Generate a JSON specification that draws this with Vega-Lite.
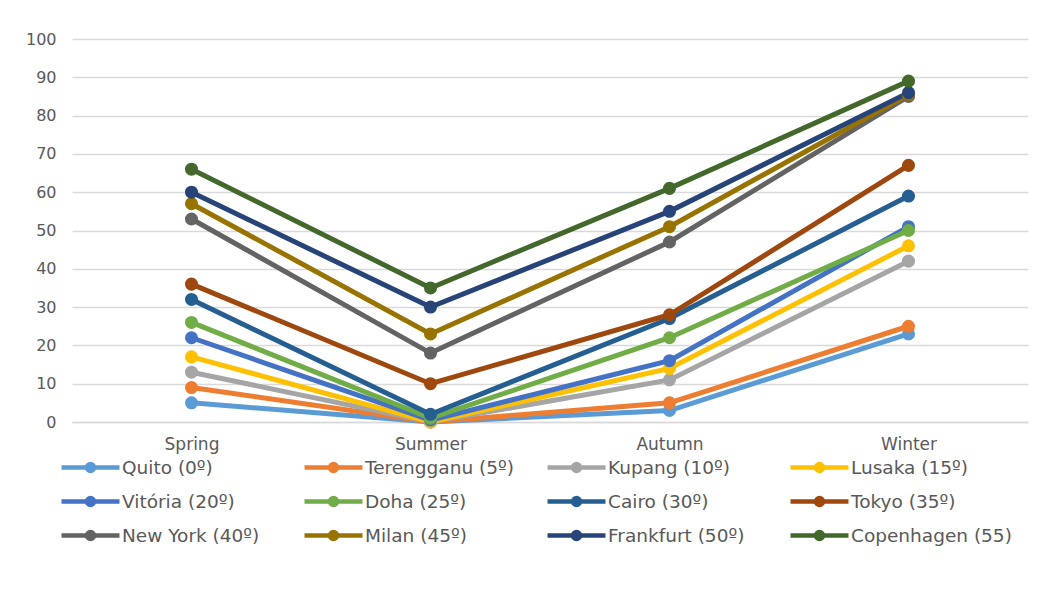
{
  "$schema": "https://vega.github.io/schema/vega-lite/v6.json",
  "width": 956,
  "height": 383,
  "autosize": {"type": "none"},
  "padding": {"left": 72, "top": 39, "right": 14, "bottom": 171},
  "background": "white",
  "config": {
    "font": "DejaVu Sans",
    "view": {"stroke": null},
    "axis": {"labelFont": "DejaVu Sans", "labelColor": "#595959", "labelFontSize": 16, "titleFont": "DejaVu Sans"},
    "legend": {"labelFont": "DejaVu Sans"}
  },
  "data": {
    "values": [
      {"city": "Quito (0º)", "season": "Spring", "value": 5},
      {"city": "Quito (0º)", "season": "Summer", "value": 0},
      {"city": "Quito (0º)", "season": "Autumn", "value": 3},
      {"city": "Quito (0º)", "season": "Winter", "value": 23},
      {"city": "Terengganu (5º)", "season": "Spring", "value": 9},
      {"city": "Terengganu (5º)", "season": "Summer", "value": 0},
      {"city": "Terengganu (5º)", "season": "Autumn", "value": 5},
      {"city": "Terengganu (5º)", "season": "Winter", "value": 25},
      {"city": "Kupang (10º)", "season": "Spring", "value": 13},
      {"city": "Kupang (10º)", "season": "Summer", "value": 0},
      {"city": "Kupang (10º)", "season": "Autumn", "value": 11},
      {"city": "Kupang (10º)", "season": "Winter", "value": 42},
      {"city": "Lusaka (15º)", "season": "Spring", "value": 17},
      {"city": "Lusaka (15º)", "season": "Summer", "value": 0},
      {"city": "Lusaka (15º)", "season": "Autumn", "value": 14},
      {"city": "Lusaka (15º)", "season": "Winter", "value": 46},
      {"city": "Vitória (20º)", "season": "Spring", "value": 22},
      {"city": "Vitória (20º)", "season": "Summer", "value": 0.5},
      {"city": "Vitória (20º)", "season": "Autumn", "value": 16},
      {"city": "Vitória (20º)", "season": "Winter", "value": 51},
      {"city": "Doha (25º)", "season": "Spring", "value": 26},
      {"city": "Doha (25º)", "season": "Summer", "value": 1},
      {"city": "Doha (25º)", "season": "Autumn", "value": 22},
      {"city": "Doha (25º)", "season": "Winter", "value": 50},
      {"city": "Cairo (30º)", "season": "Spring", "value": 32},
      {"city": "Cairo (30º)", "season": "Summer", "value": 2},
      {"city": "Cairo (30º)", "season": "Autumn", "value": 27},
      {"city": "Cairo (30º)", "season": "Winter", "value": 59},
      {"city": "Tokyo (35º)", "season": "Spring", "value": 36},
      {"city": "Tokyo (35º)", "season": "Summer", "value": 10},
      {"city": "Tokyo (35º)", "season": "Autumn", "value": 28},
      {"city": "Tokyo (35º)", "season": "Winter", "value": 67},
      {"city": "New York (40º)", "season": "Spring", "value": 53},
      {"city": "New York (40º)", "season": "Summer", "value": 18},
      {"city": "New York (40º)", "season": "Autumn", "value": 47},
      {"city": "New York (40º)", "season": "Winter", "value": 85},
      {"city": "Milan  (45º)", "season": "Spring", "value": 57},
      {"city": "Milan  (45º)", "season": "Summer", "value": 23},
      {"city": "Milan  (45º)", "season": "Autumn", "value": 51},
      {"city": "Milan  (45º)", "season": "Winter", "value": 85.5},
      {"city": "Frankfurt (50º)", "season": "Spring", "value": 60},
      {"city": "Frankfurt (50º)", "season": "Summer", "value": 30},
      {"city": "Frankfurt (50º)", "season": "Autumn", "value": 55},
      {"city": "Frankfurt (50º)", "season": "Winter", "value": 86},
      {"city": "Copenhagen (55)", "season": "Spring", "value": 66},
      {"city": "Copenhagen (55)", "season": "Summer", "value": 35},
      {"city": "Copenhagen (55)", "season": "Autumn", "value": 61},
      {"city": "Copenhagen (55)", "season": "Winter", "value": 89}
    ]
  },
  "encoding": {
    "x": {
      "field": "season", "type": "ordinal",
      "sort": ["Spring", "Summer", "Autumn", "Winter"],
      "scale": {"paddingInner": 0, "paddingOuter": 0},
      "axis": {"title": null, "labelAngle": 0, "ticks": false, "domainColor": "#d9d9d9", "domainWidth": 1.5, "labelPadding": 14, "labelFontSize": 17}
    },
    "y": {
      "field": "value", "type": "quantitative",
      "scale": {"domain": [0, 100], "nice": false},
      "axis": {"title": null, "values": [0,10,20,30,40,50,60,70,80,90,100], "ticks": false, "domain": false, "gridColor": "#d9d9d9", "gridWidth": 1.5, "labelPadding": 16}
    },
    "color": {
      "field": "city", "type": "nominal",
      "scale": {
        "domain": ["Quito (0º)", "Terengganu (5º)", "Kupang (10º)", "Lusaka (15º)", "Vitória (20º)", "Doha (25º)", "Cairo (30º)", "Tokyo (35º)", "New York (40º)", "Milan  (45º)", "Frankfurt (50º)", "Copenhagen (55)"],
        "range": ["#5B9BD5", "#ED7D31", "#A5A5A5", "#FFC000", "#4472C4", "#70AD47", "#255E91", "#9E480E", "#636363", "#997300", "#264478", "#43682B"]
      },
      "legend": {
        "title": null, "orient": "none", "legendX": 9, "legendY": 419, "direction": "horizontal",
        "columns": 4, "gridAlign": "all", "columnPadding": 12, "rowPadding": 9,
        "labelFontSize": 18.5, "labelColor": "#595959", "labelOffset": 22, "labelLimit": 300,
        "symbolType": "M-4,0L4,0M0.48,0A0.48,0.48,0,1,1,-0.48,0A0.48,0.48,0,1,1,0.48,0Z",
        "symbolSize": 210, "symbolStrokeWidth": 4.5
      }
    }
  },
  "layer": [
    {"mark": {"type": "line", "strokeWidth": 5}},
    {"mark": {"type": "circle", "size": 170, "opacity": 1}}
  ]
}
